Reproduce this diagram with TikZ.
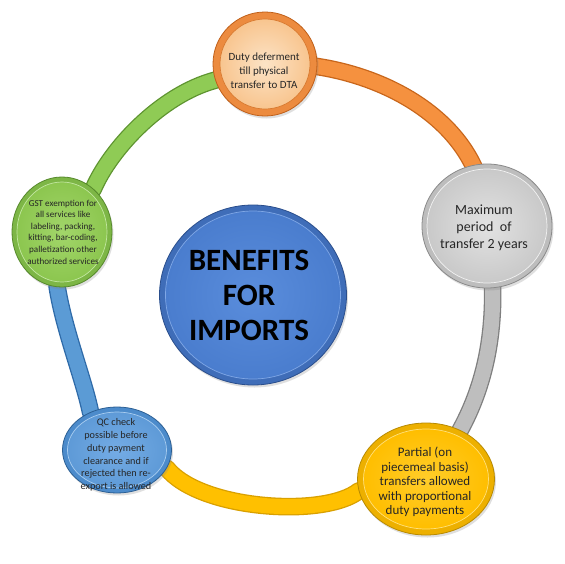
\documentclass[tikz,border=0pt]{standalone}
\usepackage{fontspec}
\setmainfont{Carlito}
\usetikzlibrary{shapes.geometric,shadows}
\definecolor{bOrange}{HTML}{F5913F}\definecolor{eOrange}{HTML}{C8661B}
\definecolor{bGray}{HTML}{BEBEBE}\definecolor{eGray}{HTML}{7F7F7F}
\definecolor{bYellow}{HTML}{FFC000}\definecolor{eYellow}{HTML}{D9A000}
\definecolor{bBlue}{HTML}{5B9BD5}\definecolor{eBlue}{HTML}{2E6AA8}
\definecolor{bGreen}{HTML}{8FCB55}\definecolor{eGreen}{HTML}{5E9430}
%
\definecolor{rT}{HTML}{EC8B3F}\definecolor{lT}{HTML}{C0601A}\definecolor{iT1}{HTML}{FCE3C6}\definecolor{iT2}{HTML}{F8C58F}\definecolor{kT}{HTML}{D87A30}
\definecolor{rR}{HTML}{BDBDBD}\definecolor{lR}{HTML}{8A8A8A}\definecolor{iR1}{HTML}{E2E2E2}\definecolor{iR2}{HTML}{C9C9C9}\definecolor{kR}{HTML}{F2F2F2}
\definecolor{rY}{HTML}{EDB000}\definecolor{lY}{HTML}{B88A00}\definecolor{iY1}{HTML}{FFCD2A}\definecolor{iY2}{HTML}{FFBE00}\definecolor{kY}{HTML}{FFE07A}
\definecolor{rB}{HTML}{4C8BCB}\definecolor{lB}{HTML}{2B5F94}\definecolor{iB1}{HTML}{74ACE5}\definecolor{iB2}{HTML}{5E9AD7}\definecolor{kB}{HTML}{A9CDF0}
\definecolor{rG}{HTML}{7DB646}\definecolor{lG}{HTML}{56892B}\definecolor{iG1}{HTML}{A2D66A}\definecolor{iG2}{HTML}{8CC64F}\definecolor{kG}{HTML}{C2E6A0}
\definecolor{rC}{HTML}{3F6DB8}\definecolor{lC}{HTML}{2A4E8C}\definecolor{iC1}{HTML}{5A8DDC}\definecolor{iC2}{HTML}{4A7DCE}\definecolor{kC}{HTML}{7FA7E6}
\begin{document}
\begin{tikzpicture}[x=1pt,y=-1pt,
  bandstyle/.style 2 args={draw=#2, double=#1, double distance=15pt, line width=1.3pt, line join=round},
  discout/.style 2 args={ellipse, inner sep=0pt, fill=#1, draw=#2, line width=0.8pt,
     drop shadow={opacity=0.25, shadow xshift=1.5pt, shadow yshift=-2.5pt}},
  discin/.style n args={3}{ellipse, inner sep=0pt, inner color=#1, outer color=#2, draw=#3, line width=0.7pt},
  txt/.style={align=center, inner sep=0pt, text=black!85}
]
\fill[white] (0,0) rectangle (565,563);
\path[use as bounding box] (0,0) rectangle (565,563);

% node positions (outer discs)
\path (265,64) node[ellipse, minimum width=104pt, minimum height=104pt, inner sep=0pt] (T) {};
\path (487,226) node[ellipse, minimum width=130pt, minimum height=124pt, inner sep=0pt] (R) {};
\path (426,479) node[ellipse, minimum width=137pt, minimum height=112pt, inner sep=0pt] (Y) {};
\path (117,450) node[ellipse, minimum width=109pt, minimum height=86pt, inner sep=0pt] (B) {};
\path (62,232) node[ellipse, minimum width=100pt, minimum height=110pt, inner sep=0pt] (G) {};

% ring segments
\draw[bandstyle={bOrange}{eOrange}] (T.center) .. controls (355,58) and (487,110) .. (R.center);
\draw[bandstyle={bGray}{eGray}] (R.center) .. controls (500,310) and (495,400) .. (Y.center);
\draw[bandstyle={bYellow}{eYellow}] (Y.center) -- (Y.190) .. controls (325,518) and (200,510) .. (B.-20) -- (B.center);
\draw[bandstyle={bBlue}{eBlue}] (B.center) -- (B.125) .. controls (84,380) and (64,330) .. (G.265) -- (G.center);
\draw[bandstyle={bGreen}{eGreen}] (G.center) -- (G.54) .. controls (110,150) and (160,95) .. (T.198) -- (T.center);

% discs
\node[discout={rT}{lT}, minimum width=104pt, minimum height=104pt] (Tout) at (T) {};
\node[discin={iT1}{iT2}{kT}, minimum width=90pt, minimum height=90pt] (Tin) at (T) {};
\node[discout={rR}{lR}, minimum width=130pt, minimum height=124pt] (Rout) at (R) {};
\node[discin={iR1}{iR2}{kR}, minimum width=120pt, minimum height=114pt] (Rin) at (R) {};
\node[discout={rY}{lY}, minimum width=137pt, minimum height=112pt] (Yout) at (Y) {};
\node[discin={iY1}{iY2}{kY}, minimum width=125pt, minimum height=100pt] (Yin) at (Y) {};
\node[discout={rB}{lB}, minimum width=109pt, minimum height=86pt] (Bout) at (B) {};
\node[discin={iB1}{iB2}{kB}, minimum width=99pt, minimum height=76pt] (Bin) at (B) {};
\node[discout={rG}{lG}, minimum width=100pt, minimum height=110pt] (Gout) at (G) {};
\node[discin={iG1}{iG2}{kG}, minimum width=90pt, minimum height=100pt] (Gin) at (G) {};
\node[discout={rC}{lC}, minimum width=187pt, minimum height=180pt] (C) at (253,295) {};
\node[discin={iC1}{iC2}{kC}, minimum width=175pt, minimum height=168pt] (Cin) at (C) {};

% texts
\node[txt, font=\fontsize{11}{14}\selectfont] (Tt) at (264,71) {Duty deferment\\till physical\\transfer to DTA};
\node[txt, font=\fontsize{14}{17}\selectfont] (Rt) at (484,228) {Maximum\\period\ \ of\\transfer 2 years};
\node[txt, font=\fontsize{13}{14.5}\selectfont] (Yt) at (425,482) {Partial (on\\piecemeal basis)\\transfers allowed\\with proportional\\duty payments};
\node[txt, font=\fontsize{10.2}{12.8}\selectfont] (Bt) at (116,455) {QC check\\possible before\\duty payment\\clearance and if\\rejected then re-\\export is allowed};
\node[txt, font=\fontsize{9.1}{11.6}\selectfont] (Gt) at (63,232) {GST exemption for\\all services like\\labeling, packing,\\kitting, bar-coding,\\palletization other\\authorized services};
\node[txt, font=\fontsize{31}{35}\selectfont\bfseries, text=black] (Ct) at (249,295) {BENEFITS\\FOR\\IMPORTS};
\end{tikzpicture}
\end{document}
